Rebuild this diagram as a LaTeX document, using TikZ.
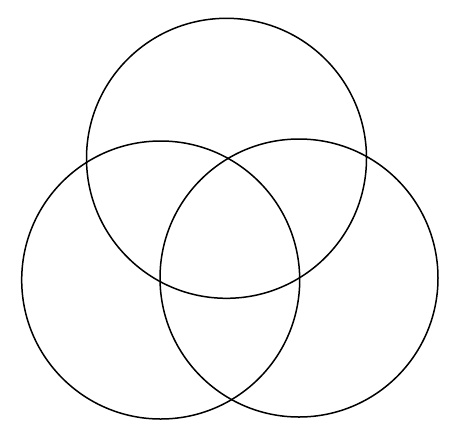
\documentclass[tikz,border=0pt]{standalone}
\begin{document}
\begin{tikzpicture}[x=1pt,y=-1pt,vennring/.style={draw=black,line width=1.5pt}]
\useasboundingbox[fill=white] (0,0) rectangle (455,432);
\node[vennring,circle,minimum size=280pt,inner sep=0pt] (top) at (226.5,158.3) {};
\node[vennring,circle,minimum size=278pt,inner sep=0pt] (left) at (160.7,280) {};
\node[vennring,circle,minimum size=278pt,inner sep=0pt] (right) at (299,278) {};
\end{tikzpicture}
\end{document}
